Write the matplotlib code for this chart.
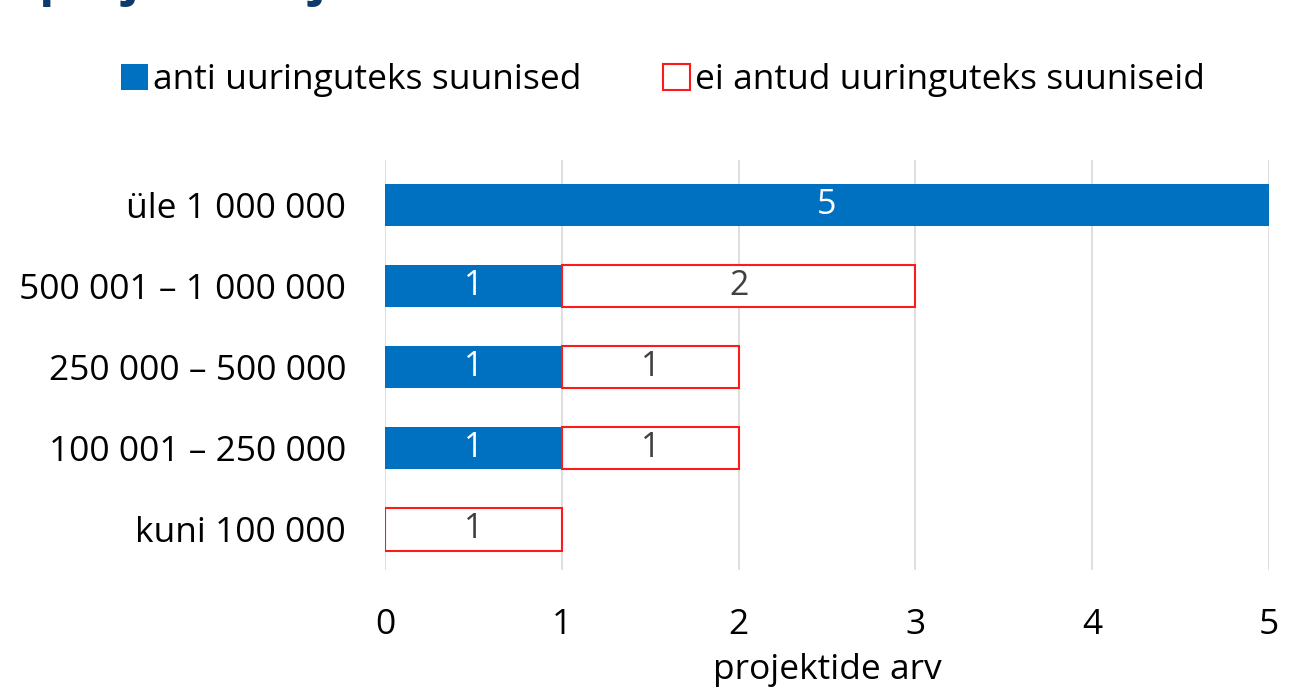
import matplotlib.pyplot as plt
import numpy as np

plt.rcParams['font.family'] = ['Open Sans', 'DejaVu Sans']

# andmed
categories = ['üle 1 000 000', '500 001 – 1 000 000', '250 000 – 500 000',
              '100 001 – 250 000', 'kuni 100 000']
given = [5, 1, 1, 1, 0]
not_given = [0, 2, 1, 1, 1]
series_names = ['anti uuringuteks suunised', 'ei antud uuringuteks suuniseid']
xticks = [0, 1, 2, 3, 4, 5]

blue = '#0070c0'
red = '#ff1a1a'
txt = '#404040'
fs = 25.5

fig = plt.figure(figsize=(13.09, 6.88), dpi=100)
ax = fig.add_axes([385 / 1309, 1 - 570 / 688, 884 / 1309, 410 / 688])

y = np.arange(len(categories))[::-1]
h = 0.52
b1 = ax.barh(y, given, height=h, color=blue, label=series_names[0], zorder=3)
b2 = ax.barh(y, not_given, left=given, height=h, color='white', edgecolor=red,
             linewidth=1.5, label=series_names[1], zorder=3)

for yi, g, n in zip(y, given, not_given):
    if g > 0:
        ax.text(g / 2, yi, str(g), ha='center', va='center', color='white', fontsize=24.5, zorder=4)
    if n > 0:
        ax.text(g + n / 2, yi, str(n), ha='center', va='center', color=txt, fontsize=24.5, zorder=4)

ax.set_xlim(0, 5)
ax.set_ylim(-0.5, 4.55)
ax.set_xticks(xticks)
ax.set_yticks(y)
ax.set_yticklabels(categories)
ax.tick_params(axis='both', length=0, labelsize=fs, colors='black')
ax.tick_params(axis='y', pad=28)
ax.tick_params(axis='x', pad=27)
ax.grid(axis='x', color='#d9d9d9', linewidth=1.2, zorder=0)
for s in ax.spines.values():
    s.set_visible(False)
ax.set_xlabel('projektide arv', fontsize=fs, labelpad=8)

leg = fig.legend(handles=[b1, b2], loc='center', bbox_to_anchor=(663 / 1309, 1 - 80 / 688),
                 ncol=2, frameon=False, fontsize=fs, handlelength=0.75, handleheight=0.75,
                 handletextpad=0.15, columnspacing=2.3)

# tühjad ribad ilma servata (pärast legendi)
for rect, n in zip(b2.patches, not_given):
    if n == 0:
        rect.set_linewidth(0)

# pealkiri (üleval ära lõigatud)
fig.text(-0.003, 1 + 5 / 688, 'a projektide jaotus eri väärtuse',
         fontsize=36, fontweight='bold', color='#0b3a6e', va='baseline', ha='left')

fig.savefig('out.png', dpi=100)
